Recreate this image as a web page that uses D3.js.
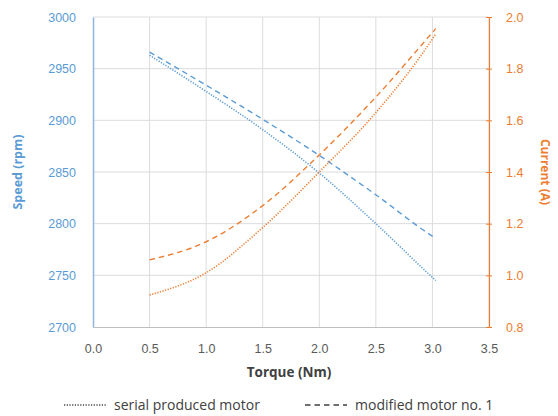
<!DOCTYPE html>
<html><head><meta charset="utf-8">
<script src="https://cdn.jsdelivr.net/npm/d3@7"></script>
<style>body{margin:0;background:#fff;}svg{display:block;font-family:"Open Sans","Liberation Sans",sans-serif;}</style>
</head><body><svg id="c" width="558" height="416"></svg>
<script>
const torque = [0.5, 1.0, 1.5, 2.0, 2.5, 3.0, 3.03];
const speedSerial = [2963, 2928, 2891, 2849, 2800, 2748, 2745];
const speedModified = [2966, 2934, 2901, 2866, 2828, 2788, 2786];
const currentSerial = [0.924, 1.01, 1.185, 1.40, 1.63, 1.915, 1.935];
const currentModified = [1.06, 1.13, 1.27, 1.466, 1.69, 1.94, 1.955];
const xTicks = [0, 0.5, 1, 1.5, 2, 2.5, 3, 3.5];
const speedTicks = [2700, 2750, 2800, 2850, 2900, 2950, 3000];
const currentTicks = [0.8, 1.0, 1.2, 1.4, 1.6, 1.8, 2.0];

const blue = "#5B9BD5", orange = "#ED7D31";
const svg = d3.select("#c");
const L = 93, R = 489, T = 17, B = 327;
const x = d3.scaleLinear().domain([0, 3.5]).range([L, R]);
const yS = d3.scaleLinear().domain([2700, 3000]).range([B, T]);
const yC = d3.scaleLinear().domain([0.8, 2.0]).range([B, T]);

// grid
svg.append("g").selectAll("line").data(xTicks.slice(1)).join("line")
  .attr("x1", d => x(d)).attr("x2", d => x(d)).attr("y1", T).attr("y2", B)
  .attr("stroke", "#dcdcdc").attr("stroke-width", 1);
svg.append("g").selectAll("line").data(speedTicks.slice(1)).join("line")
  .attr("x1", L).attr("x2", R).attr("y1", d => yS(d)).attr("y2", d => yS(d))
  .attr("stroke", "#dcdcdc").attr("stroke-width", 1);

// x axis
const gx = svg.append("g").attr("transform", `translate(0,${B})`)
  .call(d3.axisBottom(x).tickValues(xTicks).tickFormat(d3.format(".1f")).tickSize(0).tickPadding(17));
gx.select(".domain").attr("stroke", "#bfbfbf");
gx.selectAll("text").attr("fill", "#595959").style("font-size", "12.5px");

// left axis
const gl = svg.append("g").attr("transform", `translate(${L},0)`)
  .call(d3.axisLeft(yS).tickValues(speedTicks).tickFormat(d3.format("d")).tickSize(0).tickPadding(17));
gl.select(".domain").attr("stroke", "#8FB4DE").attr("stroke-width", 1.5);
gl.selectAll("text").attr("fill", blue).style("font-size", "12.5px");

// right axis
const gr = svg.append("g").attr("transform", `translate(${R},0)`)
  .call(d3.axisRight(yC).tickValues(currentTicks).tickFormat(d3.format(".1f")).tickSize(3).tickPadding(14));
gr.select(".domain").attr("stroke", orange).attr("stroke-width", 1.2);
gr.selectAll(".tick line").attr("stroke", orange).attr("x1", -3);
gr.selectAll("text").attr("fill", orange).style("font-size", "12.5px");

// lines
const line = (ys) => d3.line().x((d, i) => x(torque[i])).y(d => ys(d)).curve(d3.curveMonotoneX);
const dotted = "1.2,1.5", dashed = "5.5,4";
svg.append("path").datum(speedSerial).attr("d", line(yS)).attr("fill", "none")
  .attr("stroke", blue).attr("stroke-width", 1.6).attr("stroke-dasharray", dotted);
svg.append("path").datum(speedModified).attr("d", line(yS)).attr("fill", "none")
  .attr("stroke", blue).attr("stroke-width", 1.4).attr("stroke-dasharray", dashed);
svg.append("path").datum(currentSerial).attr("d", line(yC)).attr("fill", "none")
  .attr("stroke", orange).attr("stroke-width", 1.6).attr("stroke-dasharray", dotted);
svg.append("path").datum(currentModified).attr("d", line(yC)).attr("fill", "none")
  .attr("stroke", orange).attr("stroke-width", 1.4).attr("stroke-dasharray", dashed);

// axis titles
svg.append("text").attr("transform", `translate(22,${(T + B) / 2}) rotate(-90)`)
  .attr("text-anchor", "middle").attr("fill", blue).style("font-size", "12.5px").style("font-weight", "bold")
  .text("Speed (rpm)");
svg.append("text").attr("transform", `translate(541,${(T + B) / 2}) rotate(90)`)
  .attr("text-anchor", "middle").attr("fill", orange).style("font-size", "12px").style("font-weight", "bold")
  .text("Current (A)");
svg.append("text").attr("x", (L + R) / 2 - 2).attr("y", 377).attr("text-anchor", "middle")
  .attr("fill", "#404040").style("font-size", "13.5px").style("font-weight", "bold").text("Torque (Nm)");

// legend
const legend = [{name: "serial produced motor", dash: dotted, x: 64},
                {name: "modified motor no. 1", dash: dashed, x: 305}];
const lg = svg.append("g").selectAll("g").data(legend).join("g")
  .attr("transform", d => `translate(${d.x},405)`);
lg.append("line").attr("x1", 0).attr("x2", 42).attr("y1", 0).attr("y2", 0)
  .attr("stroke", "#404040").attr("stroke-width", 1.4).attr("stroke-dasharray", d => d.dash);
lg.append("text").attr("x", 50).attr("y", 5).attr("fill", "#404040").style("font-size", "14px").text(d => d.name);
</script></body></html>
